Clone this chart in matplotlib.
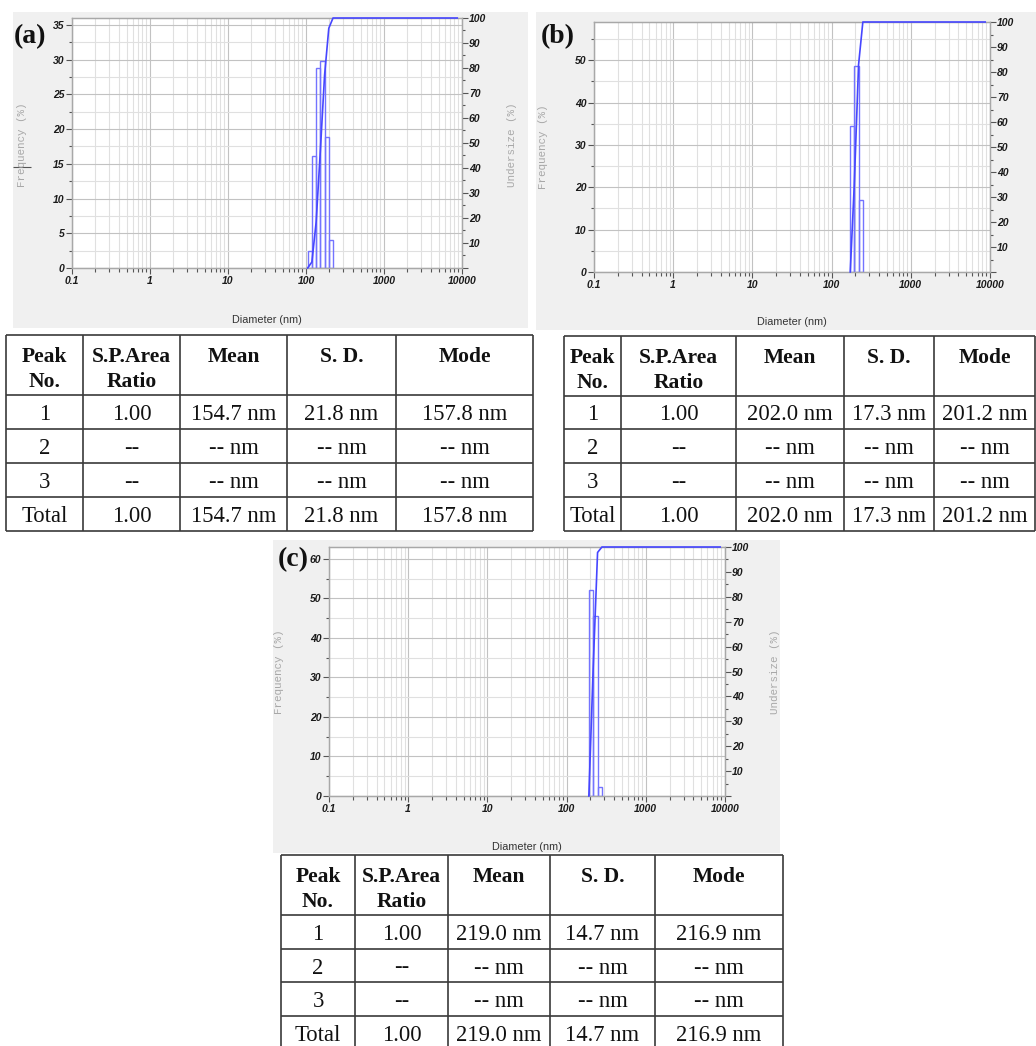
"""Particle size distribution panels (a)-(c) with peak tables."""

import numpy as np
import matplotlib

matplotlib.use("agg")
import matplotlib.pyplot as plt
from matplotlib.patches import Rectangle
from matplotlib.ticker import FixedLocator, NullFormatter

W, H = 1036, 1046

# ---- values ----
a_edges = [105, 119, 135, 153, 173, 196, 222]
a_freq = [2.4, 16.1, 28.8, 29.8, 18.8, 4.1]
a_under_x = [105, 119, 135, 153, 173, 196, 222, 8700]
a_under = [0, 2.4, 18.5, 47.3, 77.1, 95.9, 100, 100]

b_edges = [172, 193, 219, 248]
b_freq = [34.4, 48.5, 17.0]
b_under_x = [172, 193, 219, 248, 8700]
b_under = [0, 34.4, 82.9, 100, 100]

c_edges = [191, 217, 246, 279]
c_freq = [52.2, 45.6, 2.2]
c_under_x = [191, 217, 246, 279, 8700]
c_under = [0, 52.2, 97.8, 100, 100]

x_ticks = [0.1, 1, 10, 100, 1000, 10000]
x_tick_labels = ["0.1", "1", "10", "100", "1000", "10000"]

table_header = [["Peak", "No."], ["S.P.Area", "Ratio"], ["Mean"], ["S. D."], ["Mode"]]
peak_labels = ["1", "2", "3", "Total"]
a_rows = [
    ["1.00", "154.7 nm", "21.8 nm", "157.8 nm"],
    ["--", "-- nm", "-- nm", "-- nm"],
    ["--", "-- nm", "-- nm", "-- nm"],
    ["1.00", "154.7 nm", "21.8 nm", "157.8 nm"],
]
b_rows = [
    ["1.00", "202.0 nm", "17.3 nm", "201.2 nm"],
    ["--", "-- nm", "-- nm", "-- nm"],
    ["--", "-- nm", "-- nm", "-- nm"],
    ["1.00", "202.0 nm", "17.3 nm", "201.2 nm"],
]
c_rows = [
    ["1.00", "219.0 nm", "14.7 nm", "216.9 nm"],
    ["--", "-- nm", "-- nm", "-- nm"],
    ["--", "-- nm", "-- nm", "-- nm"],
    ["1.00", "219.0 nm", "14.7 nm", "216.9 nm"],
]

tick_font = {"family": "Liberation Sans", "weight": "bold", "style": "italic",
             "size": 7.5, "color": "#1a1a1a"}
BAR_COL = "#7373ff"
LINE_COL = "#4646ff"


def px_axes(fig, x0, y0, x1, y1):
    """Axes placed by pixel box (top-left origin)."""
    return fig.add_axes([x0 / W, 1 - y1 / H, (x1 - x0) / W, (y1 - y0) / H])


def draw_panel(fig, canvas, grey_box, ax_box, edges, freq, ux, uy, ymax, ystep,
               tag, tag_xy, freq_xy, diam_xy, under_xy=None):
    gx0, gy0, gx1, gy1 = grey_box
    canvas.add_patch(Rectangle((gx0, gy0), gx1 - gx0, gy1 - gy0,
                               facecolor="#f0f0f0", edgecolor="none", zorder=0))

    ax = px_axes(fig, *ax_box)
    ax.set_xscale("log")
    ax.set_xlim(0.1, 10000)
    ax.set_ylim(0, ymax)
    ax.set_axisbelow(True)

    ax.bar(edges[:-1], freq, width=np.diff(edges), align="edge", fill=False,
           edgecolor=BAR_COL, lw=1.0)

    ax.xaxis.set_major_locator(FixedLocator(x_ticks))
    minors = [m * d for d in [0.1, 1, 10, 100, 1000] for m in range(2, 10)]
    ax.xaxis.set_minor_locator(FixedLocator(minors))
    ax.xaxis.set_minor_formatter(NullFormatter())
    ax.set_xticklabels(x_tick_labels, fontdict=tick_font)

    yt = list(range(0, int(ymax) + 1, ystep))
    ax.set_yticks(yt)
    ax.set_yticklabels([str(v) for v in yt], fontdict=tick_font)
    ax.yaxis.set_minor_locator(FixedLocator(np.arange(ystep / 2, ymax, ystep)))

    ax.grid(which="major", color="#c2c2c2", lw=0.8)
    ax.grid(which="minor", color="#e0e0e0", lw=0.8)
    ax.tick_params(axis="x", which="major", length=4, width=0.8, color="#555555", pad=2)
    ax.tick_params(axis="x", which="minor", length=3, width=0.8, color="#555555")
    ax.tick_params(axis="y", which="major", length=4, width=0.8, color="#555555", pad=1.5)
    ax.tick_params(axis="y", which="minor", length=2, width=0.8, color="#555555")
    for sp in ax.spines.values():
        sp.set_color("#a8a8a8")
        sp.set_linewidth(0.9)

    ax2 = ax.twinx()
    ax2.set_ylim(0, 100)
    ax2.plot(ux, uy, color=LINE_COL, lw=1.2, zorder=5, clip_on=False)
    rt = list(range(0, 101, 10))
    ax2.set_yticks(rt)
    ax2.set_yticklabels([""] + [str(v) for v in rt[1:]], fontdict=tick_font)
    ax2.yaxis.set_minor_locator(FixedLocator(list(range(5, 100, 10))))
    ax2.tick_params(axis="y", which="major", length=4, width=0.8, color="#555555", pad=1)
    ax2.tick_params(axis="y", which="minor", length=2, width=0.8, color="#555555")
    for sp in ax2.spines.values():
        sp.set_color("#a8a8a8")
        sp.set_linewidth(0.9)

    canvas.text(*tag_xy, tag, family="Liberation Serif", weight="bold", size=20,
                ha="center", va="center", color="#111111")
    canvas.text(*freq_xy, "Frequency (%)", family="Liberation Mono", size=7.8,
                color="#a8a8a8", rotation=90, ha="center", va="center")
    canvas.text(*diam_xy, "Diameter (nm)", family="Liberation Sans", size=7.8,
                color="#333333", ha="center", va="center")
    if under_xy is not None:
        canvas.text(*under_xy, "Undersize (%)", family="Liberation Mono", size=7.8,
                    color="#a8a8a8", rotation=90, ha="center", va="center")
    return ax


def draw_table(canvas, cols, rows, body):
    canvas.vlines(cols, rows[0], rows[-1], color="#3a3a3a", lw=1.2)
    canvas.hlines(rows, cols[0], cols[-1], color="#3a3a3a", lw=1.2)
    for j, head in enumerate(table_header):
        xc = (cols[j] + cols[j + 1]) / 2
        for k, line in enumerate(head):
            canvas.text(xc, rows[0] + 22 + 25 * k, line, family="Liberation Serif",
                        weight="bold", size=15.5, ha="center", va="center",
                        color="#111111")
    for i, lab in enumerate(peak_labels):
        yc = (rows[i + 1] + rows[i + 2]) / 2 + 2.5
        cells = [lab] + body[i]
        for j, txt in enumerate(cells):
            xc = (cols[j] + cols[j + 1]) / 2
            canvas.text(xc, yc, txt, family="Liberation Serif", size=16.3,
                        ha="center", va="center", color="#111111")


fig = plt.figure(figsize=(W / 100, H / 100), dpi=100)
fig.patch.set_facecolor("white")

canvas = fig.add_axes([0, 0, 1, 1])
canvas.set_xlim(0, W)
canvas.set_ylim(H, 0)
canvas.axis("off")

draw_panel(fig, canvas, (13, 12, 528, 328), (72, 18, 462, 268),
           a_edges, a_freq, a_under_x, a_under, 36, 5,
           "(a)", (30, 37), (22, 145), (267, 320), under_xy=(512, 145))
draw_panel(fig, canvas, (536, 12, 1036, 330), (594, 22, 990, 272),
           b_edges, b_freq, b_under_x, b_under, 59, 10,
           "(b)", (558, 37), (543, 147), (792, 322))
draw_panel(fig, canvas, (273, 540, 780, 853), (329, 547, 725, 796),
           c_edges, c_freq, c_under_x, c_under, 63, 10,
           "(c)", (293, 560), (279, 672), (527, 847), under_xy=(775, 672))

# small cursor mark left over on panel (a)
canvas.hlines([167], 13, 31, color="#555555", lw=0.8)

draw_table(canvas, [6, 83, 180, 287, 396, 533], [335, 395, 429, 463, 497, 531], a_rows)
draw_table(canvas, [564, 621, 736, 844, 934, 1035], [336, 396, 429, 463, 497, 531], b_rows)
draw_table(canvas, [281, 355, 448, 550, 655, 783], [855, 915, 949, 982, 1016, 1050], c_rows)

plt.savefig("out.png", dpi=100)
plt.close(fig)
